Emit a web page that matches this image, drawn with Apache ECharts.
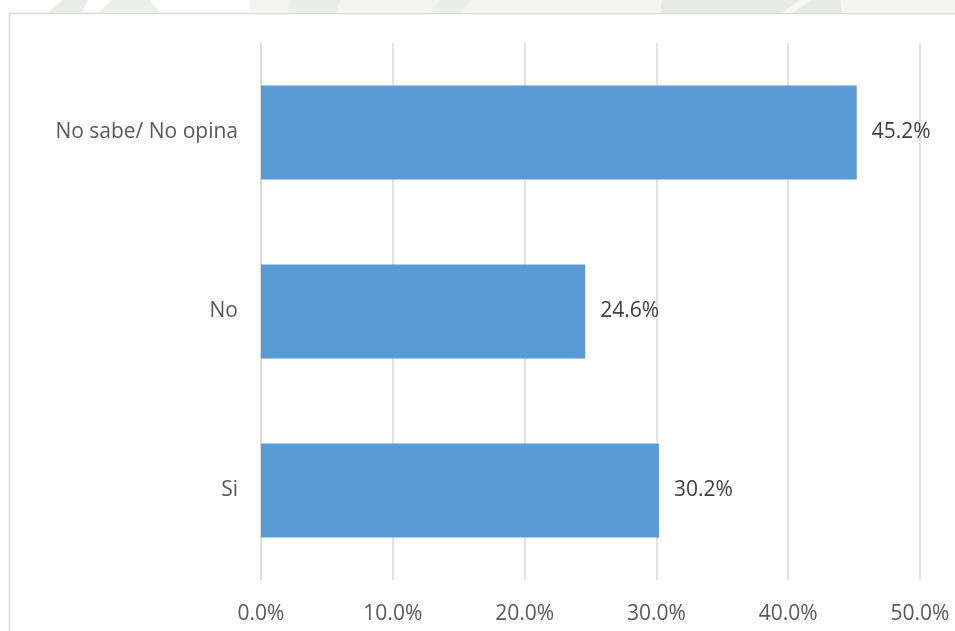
<!DOCTYPE html>
<html>
<head>
<meta charset="utf-8">
<script src="https://cdn.jsdelivr.net/npm/echarts@6/dist/echarts.min.js"></script>
<style>
  html, body { margin: 0; padding: 0; background: #ffffff; }
  #chart { width: 955px; height: 631px; }
</style>
</head>
<body>
<div id="chart"></div>
<script>
// Survey answers (bottom to top on the category axis)
const categories = ['Si', 'No', 'No sabe/ No opina'];
const percentages = [30.2, 24.6, 45.2];
// Value axis range in percent
const axisMin = 0;
const axisMax = 50;
const axisStep = 10;

const FONT = '"Open Sans", "Liberation Sans", sans-serif';

const chart = echarts.init(document.getElementById('chart'), null, { renderer: 'canvas' });

const mark = (points, fill) => ({ type: 'polygon', shape: { points }, style: { fill }, silent: true });

chart.setOption({
  backgroundColor: '#ffffff',
  animation: false,
  graphic: [
    // faint page decoration above the frame
    mark([[250, 0], [955, 0], [955, 13], [250, 13]], '#f4f5f3'),
    mark([[48, 13], [62, 0], [88, 0], [82, 13]], '#e8ebe6'),
    mark([[98, 13], [112, 0], [150, 0], [160, 13]], '#ebeee9'),
    mark([[288, 13], [290, 0], [340, 0], [336, 13]], '#eaede8'),
    mark([[430, 13], [440, 0], [470, 0], [462, 13]], '#eaede8'),
    mark([[660, 13], [662, 0], [840, 0], [842, 13]], '#e6e9e4'),
    mark([[782, 13], [800, 0], [812, 0], [792, 13]], '#f7f8f6'),
    // chart frame
    { type: 'rect', shape: { x: 9.5, y: 13.5, width: 1000, height: 700 },
      style: { fill: '#ffffff', stroke: '#d9d9d9', lineWidth: 1.5 }, silent: true, z: -1 }
  ],
  grid: { left: 261, right: 35, top: 43, bottom: 51, containLabel: false },
  xAxis: {
    type: 'value',
    min: axisMin,
    max: axisMax,
    interval: axisStep,
    axisLine: { show: false },
    axisTick: { show: false },
    axisLabel: {
      color: '#595959',
      fontFamily: FONT,
      fontSize: 21,
      margin: 24,
      formatter: v => v.toFixed(1) + '%'
    },
    splitLine: { show: true, lineStyle: { color: '#d9d9d9', width: 1.5 } }
  },
  yAxis: {
    type: 'category',
    data: categories,
    axisLine: { show: true, lineStyle: { color: '#d9d9d9', width: 1.5 } },
    axisTick: { show: false },
    axisLabel: {
      color: '#595959',
      fontFamily: FONT,
      fontSize: 21,
      margin: 23
    }
  },
  series: [{
    type: 'bar',
    data: percentages,
    barWidth: 94,
    itemStyle: { color: '#5b9bd5' },
    label: {
      show: true,
      position: 'right',
      distance: 15,
      color: '#404040',
      fontFamily: FONT,
      fontSize: 21,
      formatter: p => p.value.toFixed(1) + '%'
    }
  }]
});
</script>
</body>
</html>
